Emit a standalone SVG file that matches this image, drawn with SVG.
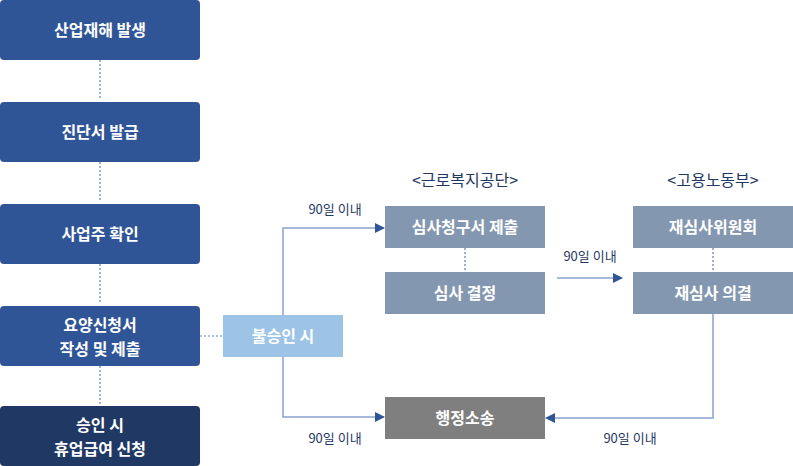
<svg xmlns="http://www.w3.org/2000/svg" width="793" height="466" viewBox="0 0 793 466">
<style>
text{font-family:"Noto Sans CJK KR","Noto Sans",sans-serif;font-weight:bold;text-anchor:middle}
.w{fill:#fff;font-size:16px}
.l{fill:#1f3864;font-size:13px;font-weight:normal}
.h{fill:#1f3864;font-size:16px;font-weight:normal}
.ln{stroke:#8ba3cc;stroke-width:1.5;fill:none}
.dt{stroke:#5b7fb8;stroke-width:1.2;stroke-dasharray:2 2;fill:none}
.blue{fill:#2f5597}
.grey{fill:#8497b0}
</style>
<defs>
<marker id="a" markerWidth="10" markerHeight="10" refX="9" refY="5" orient="auto" markerUnits="userSpaceOnUse"><path d="M0,0L10,5L0,10z" fill="#2f5597"/></marker>
<marker id="v" markerWidth="12" markerHeight="8" refX="6" refY="6" orient="auto" markerUnits="userSpaceOnUse"><path d="M1,1L6,6L11,1" fill="none" stroke="#5b7fb8" stroke-width="1.3" transform="rotate(-90 6 6)"/></marker>
</defs>
<g id="connectors">
<path class="dt" d="M100 60V100"/>
<path class="dt" d="M100 162V202"/>
<path class="dt" d="M100 264V304"/>
<path class="dt" d="M100 366V404"/>
<path class="dt" d="M200 336H223"/>
<path class="dt" d="M465 248V270"/>
<path class="dt" d="M713 248V270"/>
<path class="ln" d="M283 315V228H384" marker-end="url(#a)"/>
<path class="ln" d="M283 357V417H384" marker-end="url(#a)"/>
<path class="ln" d="M557 278H622" marker-end="url(#a)"/>
<path class="ln" d="M713 314V418H546" marker-end="url(#a)"/>
</g>
<g id="n1"><rect class="blue" x="0" y="0" width="200" height="60" rx="4"/><text class="w" x="100" y="36">산업재해 발생</text></g>
<g id="n2"><rect class="blue" x="0" y="102" width="200" height="60" rx="4"/><text class="w" x="100" y="138">진단서 발급</text></g>
<g id="n3"><rect class="blue" x="0" y="204" width="200" height="60" rx="4"/><text class="w" x="100" y="240">사업주 확인</text></g>
<g id="n4"><rect class="blue" x="0" y="306" width="200" height="60" rx="4"/><text class="w" x="100" y="331">요양신청서</text><text class="w" x="100" y="355">작성 및 제출</text></g>
<g id="n5"><rect fill="#203864" x="0" y="406" width="200" height="60" rx="4"/><text class="w" x="100" y="431">승인 시</text><text class="w" x="100" y="455">휴업급여 신청</text></g>
<g id="n6"><rect fill="#9dc3e6" x="223" y="315" width="120" height="42"/><text class="w" x="283" y="342">불승인 시</text></g>
<g id="n7"><rect class="grey" x="385" y="206" width="160" height="42"/><text class="w" x="465" y="233">심사청구서 제출</text></g>
<g id="n8"><rect class="grey" x="385" y="272" width="160" height="42"/><text class="w" x="465" y="299">심사 결정</text></g>
<g id="n9"><rect class="grey" x="633" y="206" width="160" height="42"/><text class="w" x="713" y="233">재심사위원회</text></g>
<g id="n10"><rect class="grey" x="633" y="272" width="160" height="42"/><text class="w" x="713" y="299">재심사 의결</text></g>
<g id="n11"><rect fill="#7f7f7f" x="385" y="397" width="160" height="42"/><text class="w" x="465" y="424">행정소송</text></g>
<text class="h" x="465" y="186">&lt;근로복지공단&gt;</text>
<text class="h" x="713" y="186">&lt;고용노동부&gt;</text>
<text class="l" x="335" y="214">90일 이내</text>
<text class="l" x="335" y="443">90일 이내</text>
<text class="l" x="590" y="261">90일 이내</text>
<text class="l" x="630" y="443">90일 이내</text>
</svg>
